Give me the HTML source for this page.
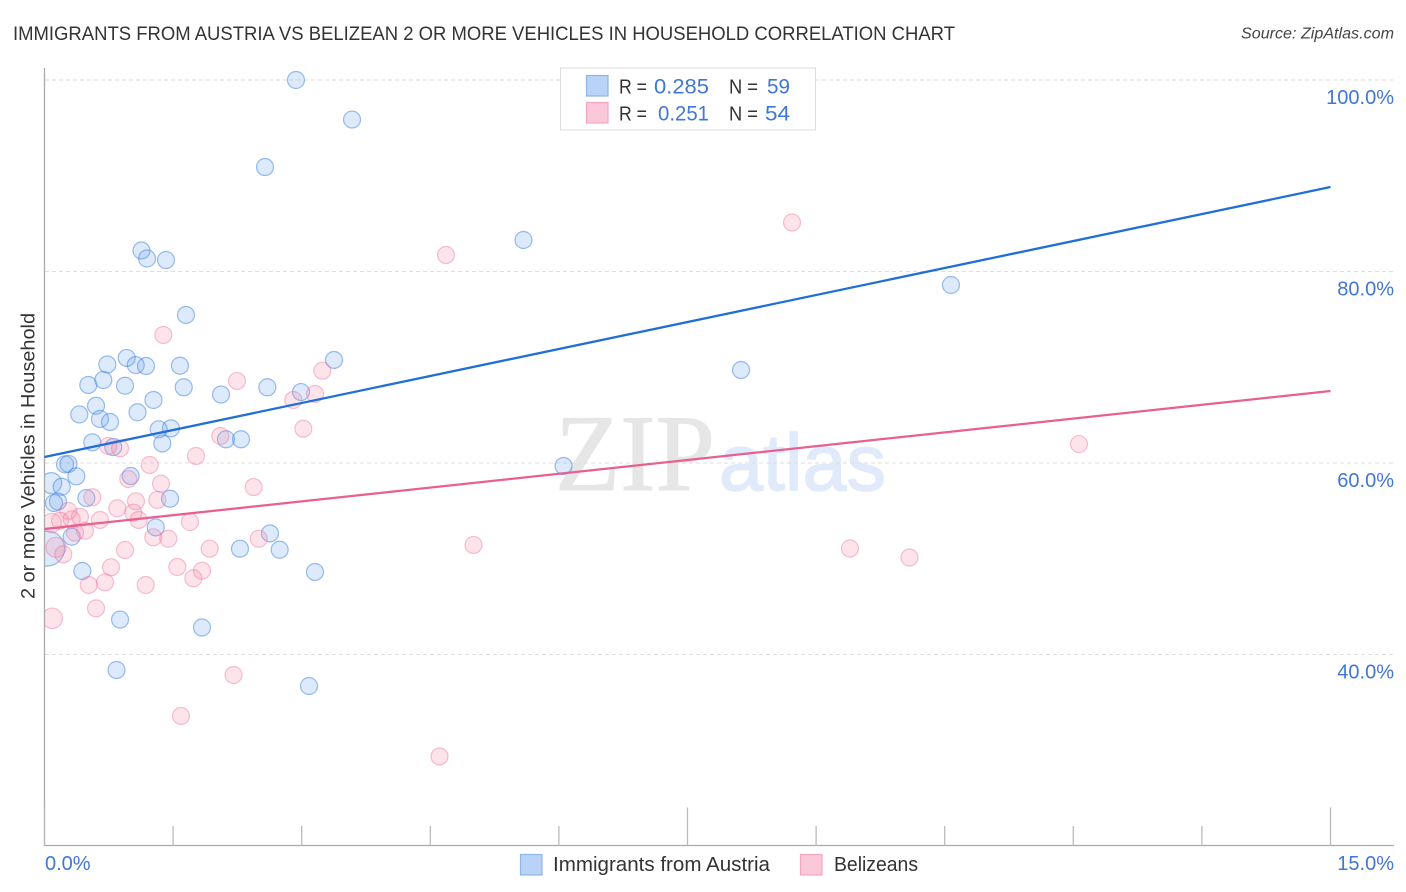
<!DOCTYPE html>
<html lang="en">
<head>
<meta charset="utf-8">
<title>Immigrants from Austria vs Belizean 2 or more Vehicles in Household Correlation Chart</title>
<style>
  html, body { margin: 0; padding: 0; background: #fff; }
  svg { display: block; font-family: "Liberation Sans", sans-serif; }
</style>
</head>
<body>
<svg id="chart" xmlns="http://www.w3.org/2000/svg" width="1406" height="892" viewBox="0 0 1406 892">
  <defs>
    <clipPath id="plot-clip"><rect x="45" y="60" width="1349" height="785"/></clipPath>
  </defs>
  <rect x="0" y="0" width="1406" height="892" fill="#fff"/>
  <text x="13" y="40" font-size="19.5" fill="#333" textLength="942" lengthAdjust="spacingAndGlyphs">IMMIGRANTS FROM AUSTRIA VS BELIZEAN 2 OR MORE VEHICLES IN HOUSEHOLD CORRELATION CHART</text>
  <text x="1241" y="38.5" font-size="15.5" font-style="italic" fill="#444" textLength="153" lengthAdjust="spacingAndGlyphs">Source: ZipAtlas.com</text>

  <g>
    <text x="555" y="490" font-family="'Liberation Serif', serif" font-size="109" fill="#e6e6e6" stroke="#e6e6e6" stroke-width="1" textLength="160" lengthAdjust="spacingAndGlyphs">ZIP</text>
    <text x="719" y="490" font-family="'Liberation Sans', sans-serif" font-size="80" fill="#e0eafa" stroke="#e0eafa" stroke-width="1.5" textLength="167" lengthAdjust="spacingAndGlyphs">atlas</text>
  </g>

  <g id="grid"></g>
  <g id="axes"></g>
  <g id="points-blue" clip-path="url(#plot-clip)"></g>
  <g id="points-pink" clip-path="url(#plot-clip)"></g>
  <g id="lines"></g>
  <g id="labels"></g>

  <text transform="translate(34.5,599) rotate(-90)" font-size="19.5" fill="#333" textLength="286" lengthAdjust="spacingAndGlyphs">2 or more Vehicles in Household</text>

  <g>
    <rect x="560.5" y="68" width="255" height="62" fill="#fff" stroke="#ddd" stroke-width="1"/>
    <rect x="586.5" y="75.5" width="21.5" height="20.5" fill="#b8d3f7" stroke="#8fb5e5" stroke-width="1.2"/>
    <rect x="586.5" y="102.5" width="21.5" height="20.5" fill="#fcc8d9" stroke="#f2a6c0" stroke-width="1.2"/>
    <text x="619" y="93.5" font-size="20" fill="#333" textLength="28" lengthAdjust="spacingAndGlyphs">R =</text>
    <text x="654" y="93.5" font-size="21.5" fill="#4177d4" textLength="55" lengthAdjust="spacingAndGlyphs">0.285</text>
    <text x="729" y="93.5" font-size="20" fill="#333" textLength="29" lengthAdjust="spacingAndGlyphs">N =</text>
    <text x="767" y="93.5" font-size="21.5" fill="#4177d4" textLength="23" lengthAdjust="spacingAndGlyphs">59</text>
    <text x="619" y="120.5" font-size="20" fill="#333" textLength="28" lengthAdjust="spacingAndGlyphs">R =</text>
    <text x="658" y="120.5" font-size="21.5" fill="#4177d4" textLength="51" lengthAdjust="spacingAndGlyphs">0.251</text>
    <text x="729" y="120.5" font-size="20" fill="#333" textLength="29" lengthAdjust="spacingAndGlyphs">N =</text>
    <text x="765" y="120.5" font-size="21.5" fill="#4177d4" textLength="25" lengthAdjust="spacingAndGlyphs">54</text>
  </g>

  <g>
    <rect x="520.5" y="854.5" width="21.5" height="20.5" fill="#b8d3f7" stroke="#8fb5e5" stroke-width="1.2"/>
    <text x="553" y="871" font-size="20" fill="#333" textLength="217" lengthAdjust="spacingAndGlyphs">Immigrants from Austria</text>
    <rect x="800.5" y="854.5" width="21.5" height="20.5" fill="#fcc8d9" stroke="#f2a6c0" stroke-width="1.2"/>
    <text x="834" y="871" font-size="20" fill="#333" textLength="84" lengthAdjust="spacingAndGlyphs">Belizeans</text>
  </g>
</svg>
<script>
const yTickValues = [100, 80, 60, 40];
const yTickLabels = ["100.0%", "80.0%", "60.0%", "40.0%"];
const xTickValues = [0, 1.5, 3, 4.5, 6, 7.5, 9, 10.5, 12, 13.5, 15];
const xMajorTicks = [0, 7.5, 15];
const xEndLabels = ["0.0%", "15.0%"];

const blueX = [2.933,3.587,2.572,5.587,1.131,1.196,1.417,10.573,1.650,0.959,0.733,1.064,1.184,1.580,3.377,8.124,0.686,0.511,0.939,1.624,2.599,2.992,2.059,1.271,0.601,1.085,0.406,0.647,0.764,1.475,1.332,0.558,1.374,2.117,2.292,0.802,0.239,0.280,6.054,0.371,1.005,0.079,0.201,0.488,1.464,0.157,0.111,1.297,2.630,0.317,2.280,2.743,0.029,0.441,3.155,0.881,1.837,0.840,3.085];
const blueY = [100.0,95.87,90.91,83.29,82.19,81.36,81.2,78.59,75.46,70.97,70.29,70.23,70.13,70.16,70.76,69.71,68.67,68.15,68.07,67.91,67.91,67.41,67.15,66.58,65.98,65.3,65.07,64.6,64.28,63.62,63.52,62.16,62.04,62.48,62.48,61.67,59.86,59.9,59.69,58.61,58.64,57.91,57.52,56.34,56.27,55.98,55.82,53.28,52.64,52.3,51.05,50.94,51.07,48.72,48.62,43.65,42.82,38.38,36.71];
const blueWeights = {41: 1.5, 52: 4.3};

const pinkX = [1.386,2.245,3.240,2.902,3.155,3.019,0.744,0.881,2.051,1.767,1.227,0.977,1.359,2.440,0.558,1.067,1.316,0.278,0.849,1.036,1.099,0.414,0.647,0.317,0.181,0.084,1.697,0.472,0.356,1.269,1.444,2.498,1.927,0.939,0.134,0.219,0.776,1.549,1.837,1.736,0.516,0.706,1.180,0.601,0.091,4.683,8.719,12.066,5.004,9.395,10.089,2.205,1.592,4.607];
const pinkY = [73.37,68.56,69.64,66.58,67.21,63.58,61.78,61.53,62.82,60.73,59.79,58.33,57.84,57.49,56.42,56.0,56.14,54.99,55.27,54.81,54.05,54.39,54.05,54.12,53.97,53.73,53.84,52.93,52.72,52.24,52.09,52.09,51.05,50.91,51.19,50.46,49.11,49.14,48.75,47.96,47.26,47.54,47.26,44.82,43.78,81.72,85.12,61.98,51.44,51.07,50.13,37.86,33.58,29.35];
const pinkWeights = {25: 1.3, 34: 1.4, 44: 1.45};

const trendX = [0, 15];
const blueTrendY = [60.63, 88.82];
const pinkTrendY = [53.11, 67.52];

const SVGNS = "http://www.w3.org/2000/svg";
const xScale = v => 44.5 + (v / 15) * 1286;
const yScale = v => 80 + (100 - v) * 9.575;
const BASE_R = 8.5;

function make(tag, attrs, parent) {
  const el = document.createElementNS(SVGNS, tag);
  for (const k in attrs) el.setAttribute(k, attrs[k]);
  parent.appendChild(el);
  return el;
}

const grid = document.getElementById("grid");
const axes = document.getElementById("axes");
const labels = document.getElementById("labels");
const linesG = document.getElementById("lines");

yTickValues.forEach((v, i) => {
  const g = make("line", {x1: 45, x2: 1393, y1: yScale(v), y2: yScale(v), stroke: "#dedede", "stroke-width": 1, "stroke-dasharray": "4 3"}, grid);
  
  
  const t = make("text", {x: 1394, y: yScale(v) + 24, "text-anchor": "end", "font-size": 20, fill: "#4177d4"}, labels);
  
  
  t.textContent = yTickLabels[i];
});

const yAxis = make("line", {x1: 44.5, x2: 44.5, y1: 68, y2: 846, stroke: "#aaa", "stroke-width": 1.3}, axes);


const xAxis = make("line", {x1: 44, x2: 1394, y1: 845.5, y2: 845.5, stroke: "#aaa", "stroke-width": 1.3}, axes);



xTickValues.forEach(v => {
  const top = xMajorTicks.includes(v) ? 807.5 : 826;
  const tick = make("line", {x1: xScale(v), x2: xScale(v), y1: top, y2: 845.5, stroke: "#bbb", "stroke-width": 1.3}, axes);
  
  
});

const xLabelStart = make("text", {x: 45, y: 870, "font-size": 20, fill: "#4177d4"}, labels);


xLabelStart.textContent = xEndLabels[0];
const xLabelEnd = make("text", {x: 1394, y: 870, "text-anchor": "end", "font-size": 20, fill: "#4177d4"}, labels);


xLabelEnd.textContent = xEndLabels[1];

function drawPoints(gid, xs, ys, weights, fill, stroke) {
  const g = document.getElementById(gid);
  xs.forEach((x, i) => {
    const w = weights[i] || 1;
    const c = make("circle", {
      cx: xScale(x), cy: yScale(ys[i]), r: BASE_R * Math.sqrt(w),
      fill: fill, stroke: stroke, "stroke-width": 1.2
    }, g);
    
    
  });
}
drawPoints("points-blue", blueX, blueY, blueWeights, "rgba(100,160,235,0.22)", "rgba(60,125,220,0.5)");
drawPoints("points-pink", pinkX, pinkY, pinkWeights, "rgba(245,130,165,0.22)", "rgba(235,110,150,0.42)");

const blueLine = make("line", {x1: xScale(trendX[0]), x2: xScale(trendX[1]), y1: yScale(blueTrendY[0]), y2: yScale(blueTrendY[1]), stroke: "#1f6fd6", "stroke-width": 2.3}, linesG);


const pinkLine = make("line", {x1: xScale(trendX[0]), x2: xScale(trendX[1]), y1: yScale(pinkTrendY[0]), y2: yScale(pinkTrendY[1]), stroke: "#e8608f", "stroke-width": 2.3}, linesG);


</script>
</body>
</html>
